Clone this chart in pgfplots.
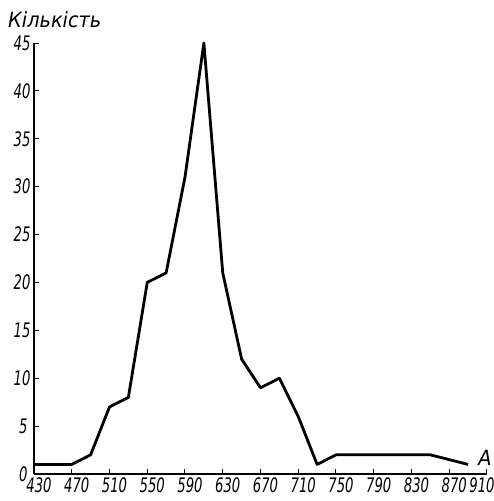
\documentclass[border=0pt]{standalone}
\usepackage{fontspec}
\setmainfont{DejaVu Sans}[FakeStretch=0.66]
\newfontfamily\labelfont{DejaVu Sans}[FakeStretch=0.92]
\usepackage{pgfplots}
\pgfplotsset{compat=1.18}

\begin{document}
\begin{tikzpicture}
% frame of the reference picture, axis box has its south west corner at (0,0)
\path[use as bounding box] (-34pt,-27pt) rectangle (460pt,474pt);
\begin{axis}[
  scale only axis, width=453pt, height=431pt,
  xmin=430, xmax=910, ymin=0, ymax=45,
  axis x line*=bottom, axis y line*=left,
  xtick={430,470,...,910}, ytick={0,5,...,45},
  xticklabels={430,470,510,550,590,630,670,710,750,790,830,870,{\kern-20pt 910}},
  yticklabels={{0\kern3pt},{5\kern3pt},10,15,20,25,30,35,40,45},
  tick align=inside, major tick length=5pt,
  tick style={line width=1pt, black},
  axis line style={line width=1.6pt},
  ticklabel style={font=\fontsize{20}{20}\selectfont\itshape},
  xticklabel style={xshift=5pt},
  /pgf/number format/assume math mode=true,
  /pgf/number format/set thousands separator={},
  xlabel={A}, ylabel={Кількість},
  every axis x label/.style={at={(axis description cs:1,0)}, anchor=base,
    inner sep=0pt, xshift=-2pt, yshift=9pt,
    font=\labelfont\fontsize{21}{21}\selectfont\itshape},
  every axis y label/.style={at={(axis description cs:0,1)}, anchor=base west,
    inner sep=0pt, xshift=-26pt, yshift=16pt,
    font=\labelfont\fontsize{21}{21}\selectfont\itshape},
  clip=false,
]
\addplot[line width=2.8pt, line join=round, black] coordinates {
  (430,1) (470,1) (490,2) (510,7) (530,8) (550,20) (570,21) (590,31)
  (610,45) (630,21) (650,12) (670,9) (690,10) (710,6) (730,1) (750,2)
  (850,2) (890,1)
};
\end{axis}
\end{tikzpicture}
\end{document}
